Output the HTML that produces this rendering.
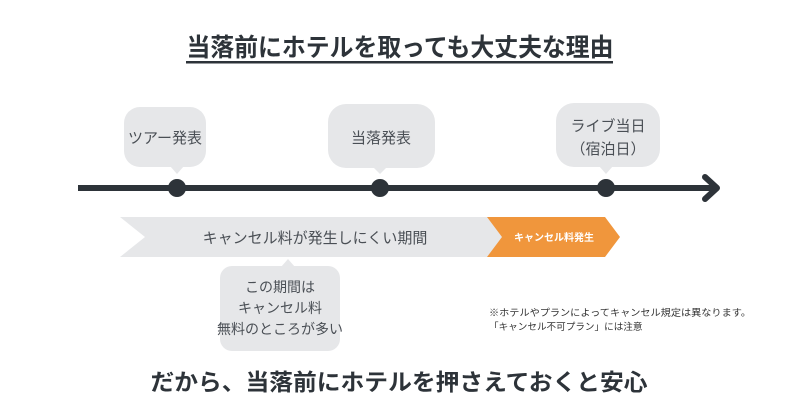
<!DOCTYPE html>
<html><head><meta charset="utf-8"><style>
html,body{margin:0;padding:0;background:#fff;}
svg{display:block}
text{font-family:"Liberation Sans","Noto Sans CJK JP",sans-serif;}
</style></head><body>
<svg width="800" height="420" viewBox="0 0 800 420" xmlns="http://www.w3.org/2000/svg">
<rect width="800" height="420" fill="#fff"/>
<text x="400" y="56" font-size="25" font-weight="bold" fill="#2d3339" text-anchor="middle" textLength="427" lengthAdjust="spacingAndGlyphs">当落前にホテルを取っても大丈夫な理由</text>
<rect x="186" y="61" width="427" height="2.5" fill="#2d3339"/>

<g fill="#e6e7e9">
<rect x="124" y="107" width="82" height="60" rx="16"/><path d="M170 166 L177 174 L184 166Z"/>
<rect x="328" y="104" width="107" height="64" rx="18"/><path d="M373 167 L380 174 L387 167Z"/>
<rect x="556" y="103" width="104" height="64" rx="18"/><path d="M599 166 L606 174 L613 166Z"/>
<rect x="220" y="266" width="120" height="85" rx="12"/><path d="M281 267 L288 259 L295 267Z"/>
<path d="M120 217 L490 217 L505 237 L490 257 L120 257 L145 237Z"/>
</g>
<path d="M487 217 L605 217 L620 237 L605 257 L487 257 L502 237Z" fill="#f0963c"/>

<rect x="78" y="185" width="636" height="6" fill="#2d3339"/>
<path d="M705 177 L717 188 L705 199" fill="none" stroke="#2d3339" stroke-width="6" stroke-linecap="round" stroke-linejoin="round"/>
<circle cx="177" cy="188" r="9" fill="#2d3339"/>
<circle cx="380" cy="188" r="9" fill="#2d3339"/>
<circle cx="606" cy="188" r="9" fill="#2d3339"/>

<g fill="#4a4f55" font-size="15" text-anchor="middle">
<text x="165" y="143">ツアー発表</text>
<text x="381" y="143">当落発表</text>
<text x="608" y="131">ライブ当日</text>
<text x="608" y="154">（宿泊日）</text>
<text x="315" y="243">キャンセル料が発生しにくい期間</text>
</g>
<g fill="#4a4f55" font-size="14" text-anchor="middle">
<text x="280" y="292">この期間は</text>
<text x="280" y="313">キャンセル料</text>
<text x="280" y="334">無料のところが多い</text>
</g>
<text x="554" y="241" font-size="10" font-weight="bold" fill="#fff" text-anchor="middle">キャンセル料発生</text>
<g fill="#333" font-size="9.6">
<text x="489" y="316" textLength="262" lengthAdjust="spacingAndGlyphs">※ホテルやプランによってキャンセル規定は異なります。</text>
<text x="489" y="330">「キャンセル不可プラン」には注意</text>
</g>
<text x="399" y="390" font-size="23" font-weight="bold" fill="#2d3339" text-anchor="middle" textLength="497" lengthAdjust="spacingAndGlyphs">だから、当落前にホテルを押さえておくと安心</text>
</svg>
</body></html>
